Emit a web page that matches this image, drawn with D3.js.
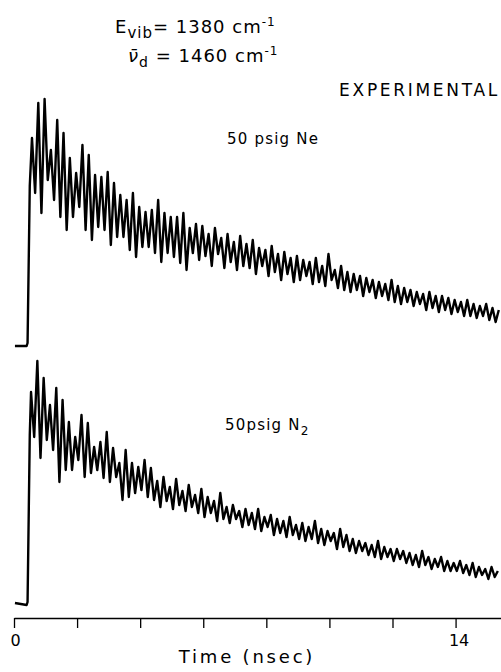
<!DOCTYPE html>
<html>
<head>
<meta charset="utf-8">
<script src="https://cdn.jsdelivr.net/npm/d3@7"></script>
<style>
  body { margin: 0; background: #fff; }
  text { font-family: "DejaVu Sans", "Liberation Sans", Arial, sans-serif; fill: #000; }
</style>
</head>
<body>
<script>
// time axis (nsec)
var tickTimes = [0, 2, 4, 6, 8, 10, 12, 14]
var tickLabels = {0: "0", 14: "14"}

// lead-in of each trace: flat baseline then the fast rise
var leadTimes = [0.03, 0.40, 0.43, 0.50]
var leadNe = [0, 0, 3, 160]
var leadN2 = [2, 0, 3, 170]

var neStart = 0.57
var n2Start = 0.54
var sampleStep = 0.1

var neValues = [
  208,153,243,133,247,166,196,146,226,129,213,116,188,129,173,139,201,116,191,106,
  171,119,169,116,174,101,163,109,151,109,146,96,153,89,139,99,134,99,136,93,
  146,84,133,93,129,89,129,83,133,76,118,93,
  122,86,120,90,112,80,118,92,108,78,112,84,104,76,110,80,
  102,78,106,72,98,80,96,70,100,74,92,66,94,72,88,64,
  90,66,86,70,84,62,88,64,80,60,92,66,76,58,80,56,
  74,54,72,56,70,50,68,54,66,48,64,50,62,46,66,44,
  60,42,58,44,56,40,54,42,52,36,54,38,50,34,50,36,
  48,32,46,34,44,30,46,30,42,28,40,30,42,26,38,24,36
]

var n2Values = [
  213,168,244,147,227,165,200,155,217,123,205,135,183,135,168,145,190,128,182,132,
  158,135,163,127,173,123,157,128,142,105,155,108,142,112,138,115,145,108,137,105,
  124,98,128,104,118,96,126,100,114,94,120,98,110,92,
  116,88,108,92,104,84,112,86,98,82,100,86,94,78,96,80,
  92,76,96,74,88,78,90,70,86,72,84,68,88,70,80,66,
  82,64,78,66,84,62,76,60,74,64,72,56,76,58,70,54,
  66,52,64,54,62,50,60,48,64,46,58,48,56,44,56,46,
  54,42,52,40,50,38,54,40,48,36,46,38,48,34,44,34,
  42,34,44,32,40,30,42,28,38,30,36,26,38,28,34
]

var svg = d3.select("body").append("svg")
  .attr("width", 501)
  .attr("height", 672)

var x = d3.scaleLinear().domain([0, 15.44]).range([14, 501])
var yNe = d3.scaleLinear().domain([0, 250]).range([346, 96])
var yN2 = d3.scaleLinear().domain([0, 250]).range([605, 355])

function buildTrace(leadVals, start, vals) {
  var pts = leadTimes.map(function(t, i) { return [t, leadVals[i]] })
  vals.forEach(function(v, i) { pts.push([start + i * sampleStep, v]) })
  return pts
}

function drawTrace(pts, yScale) {
  var line = d3.line()
    .x(function(d) { return x(d[0]) })
    .y(function(d) { return yScale(d[1]) })
  svg.append("path")
    .datum(pts)
    .attr("d", line)
    .attr("fill", "none")
    .attr("stroke", "#000")
    .attr("stroke-width", 2.4)
    .attr("stroke-linejoin", "round")
}

drawTrace(buildTrace(leadNe, neStart, neValues), yNe)
drawTrace(buildTrace(leadN2, n2Start, n2Values), yN2)

// time axis
var axis = d3.axisBottom(x)
  .tickValues(tickTimes)
  .tickSize(10)
  .tickSizeOuter(0)
  .tickPadding(7)
  .tickFormat(function(d) { return tickLabels[d] || "" })

var gx = svg.append("g")
  .attr("transform", "translate(0,618)")
  .call(axis)
gx.select(".domain").attr("stroke-width", 1.5)
gx.selectAll(".tick line").attr("stroke-width", 1.3)
gx.selectAll(".tick text")
  .attr("dx", function(d) { return d == 14 ? 3 : 1 })
  .style("font-size", "16px")
  .style("font-family", "'DejaVu Sans', sans-serif")

svg.append("text")
  .attr("x", 247)
  .attr("y", 663)
  .attr("text-anchor", "middle")
  .style("font-size", "18px")
  .style("letter-spacing", "2.8px")
  .text("Time (nsec)")

// header
var t1 = svg.append("text").attr("x", 115).attr("y", 33)
  .style("font-size", "18px").style("letter-spacing", "1px")
t1.append("tspan").text("E")
t1.append("tspan").attr("dy", 5).style("font-size", "15px").text("vib")
t1.append("tspan").attr("dy", -5).text("= 1380 cm")
t1.append("tspan").attr("dy", -7).style("font-size", "12px").text("-1")

var t2 = svg.append("text").attr("x", 128).attr("y", 62)
  .style("font-size", "18px").style("letter-spacing", "1px")
t2.append("tspan").style("font-style", "italic").text("\u03BD\u0304")
t2.append("tspan").attr("dy", 5).style("font-size", "14px").text("d")
t2.append("tspan").attr("dy", -5).text(" = 1460 cm")
t2.append("tspan").attr("dy", -7).style("font-size", "12px").text("-1")

svg.append("text")
  .attr("x", 500)
  .attr("y", 96)
  .attr("text-anchor", "end")
  .style("font-size", "17px")
  .style("letter-spacing", "2.7px")
  .text("EXPERIMENTAL")

svg.append("text")
  .attr("x", 227)
  .attr("y", 144)
  .style("font-size", "15px")
  .style("letter-spacing", "1.2px")
  .text("50 psig  Ne")

var t3 = svg.append("text").attr("x", 225).attr("y", 430)
  .style("font-size", "15px").style("letter-spacing", "1.2px")
t3.append("tspan").text("50psig  N")
t3.append("tspan").attr("dy", 5).style("font-size", "12px").text("2")
</script>
</body>
</html>
